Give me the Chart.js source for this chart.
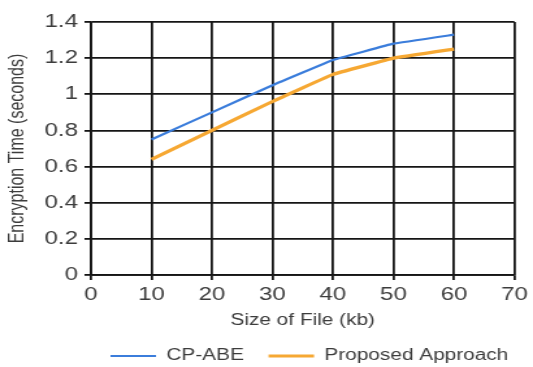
<!DOCTYPE html>
<html><head><meta charset="utf-8">
<script src="https://cdn.jsdelivr.net/npm/chart.js@4"></script>
<style>
html,body{margin:0;padding:0;background:#fff;overflow:hidden}
#wrap{width:533px;height:367px;overflow:hidden}
#c{transform:scaleX(1.3);transform-origin:0 0;display:block}
</style>
</head><body><div id="wrap"><canvas id="c" width="410" height="367"></canvas></div>
<script>
const fileSizes = [10, 20, 30, 40, 50, 60];
const cpAbe = [0.75, 0.90, 1.05, 1.19, 1.28, 1.33];
const proposed = [0.64, 0.80, 0.96, 1.11, 1.20, 1.25];
const seriesNames = ['CP-ABE', 'Proposed Approach'];
const xTitle = 'Size of File (kb)';
const yTitle = 'Encryption Time (seconds)';

const txt = '#3c3c3c';
const fam = 'Liberation Sans';
const gridCol = '#151515';
new Chart(document.getElementById('c'), {
  type: 'line',
  data: {
    datasets: [
      {label: seriesNames[0], data: fileSizes.map((x, i) => ({x, y: cpAbe[i]})), borderColor: '#3b7ddb', backgroundColor: '#3b7ddb', borderWidth: 2.2, pointRadius: 0, tension: 0.05, yAxisID: 'y'},
      {label: seriesNames[1], data: fileSizes.map((x, i) => ({x, y: proposed[i]})), borderColor: '#f6a833', backgroundColor: '#f6a833', borderWidth: 3.2, pointRadius: 0, tension: 0.05, yAxisID: 'y'}
    ]
  },
  options: {
    responsive: false, animation: false, devicePixelRatio: 1,
    layout: {padding: {left: 0, right: 0, top: 22, bottom: -7}},
    plugins: {
      legend: {position: 'bottom', align: 'end',
        labels: {usePointStyle: true, pointStyle: 'line', pointStyleWidth: 35, color: txt, font: {family: fam, size: 16}, padding: 19}},
      tooltip: {enabled: false}
    },
    scales: {
      x: {type: 'linear', min: 0, max: 70,
        ticks: {stepSize: 10, color: txt, font: {family: fam, size: 18.5}, padding: 4},
        grid: {color: gridCol, lineWidth: 1.8, tickLength: 5, tickColor: gridCol},
        border: {color: gridCol, width: 1.8},
        title: {display: true, text: xTitle, color: txt, font: {family: fam, size: 16}, padding: {top: 0, bottom: -0.8}},
        afterFit: s => { s.height = 54; }
      },
      y: {min: 0, max: 1.4, position: 'left',
        ticks: {stepSize: 0.2, color: txt, font: {family: fam, size: 18.5}, padding: 5,
          callback: v => String(Math.round(v * 10) / 10)},
        grid: {color: gridCol, lineWidth: 1.8, tickLength: 5, tickColor: gridCol},
        border: {color: gridCol, width: 1.8},
        title: {display: true, text: yTitle, color: txt, font: {family: fam, size: 16}, padding: {top: 4, bottom: 0}},
        afterFit: s => { s.width = 70; }
      },
      yRight: {position: 'right', display: true,
        grid: {display: false}, ticks: {display: false}, border: {display: false},
        afterFit: s => { s.width = 12.3; }
      }
    }
  }
});
</script></body></html>
